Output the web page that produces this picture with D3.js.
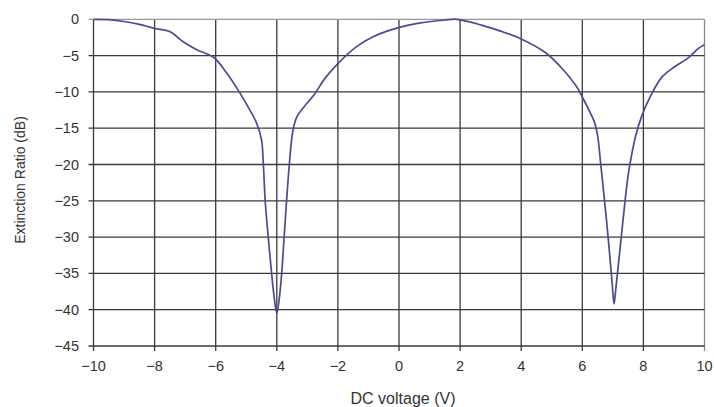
<!DOCTYPE html>
<html><head><meta charset="utf-8">
<script src="https://cdn.jsdelivr.net/npm/d3@7"></script>
<style>body{margin:0;background:#fff;} text{font-family:"Liberation Sans",Arial,sans-serif;fill:#333;}</style>
</head><body><svg id="c" width="714" height="407"></svg>
<script>
const voltage = [-10,-9.5,-9,-8.5,-8,-7.5,-7.06,-6.62,-6.08,-5.64,-5.2,-4.88,-4.66,-4.5,-4.44,-4.38,-4.28,-4.17,-4.08,-4.0,-3.92,-3.84,-3.76,-3.68,-3.59,-3.48,-3.35,-3.1,-2.8,-2.4,-2.0,-1.4,-0.85,-0.1,0.7,1.5,1.9,2.7,3.3,4.0,4.8,5.3,5.8,6.0,6.25,6.4,6.5,6.6,6.7,6.8,6.9,6.98,7.04,7.1,7.2,7.3,7.4,7.5,7.6,7.75,7.94,8.22,8.6,9.0,9.5,9.8,10];
const extinction = [0,-0.05,-0.3,-0.7,-1.25,-1.7,-3.1,-4.2,-5.2,-7.4,-10.2,-12.5,-14.3,-16.6,-20,-25,-30,-35,-38.5,-40.5,-38.5,-35,-30,-25,-20,-15.5,-13.5,-12,-10.5,-8,-6.1,-3.8,-2.4,-1.25,-0.5,-0.1,0,-0.8,-1.6,-2.7,-4.6,-6.6,-9.2,-10.7,-12.8,-14.2,-16,-19.8,-23.8,-28,-32.6,-36.5,-39.2,-37,-33,-29,-25,-21.5,-19,-16,-13.4,-10.7,-8,-6.6,-5.2,-4,-3.5];
const xTicks = [-10,-8,-6,-4,-2,0,2,4,6,8,10];
const yTicks = [0,-5,-10,-15,-20,-25,-30,-35,-40,-45];

const svg = d3.select("#c");
const x = d3.scaleLinear().domain([-10,10]).range([93.5,704.5]);
const y = d3.scaleLinear().domain([0,-45]).range([19.3,346]);
const fmt = d => d < 0 ? "\u2212" + Math.abs(d) : String(d);

const g = svg.append("g");
// grid
g.selectAll(".vg").data(xTicks).join("line")
  .attr("x1", d=>x(d)).attr("x2", d=>x(d)).attr("y1", y(0)).attr("y2", y(-45)+5)
  .attr("stroke", d => d===10 ? "#888" : "#3a3a3a").attr("stroke-width", 1.3);
g.selectAll(".hg").data(yTicks).join("line")
  .attr("y1", d=>y(d)).attr("y2", d=>y(d)).attr("x1", x(-10)-5).attr("x2", x(10))
  .attr("stroke", d => d===0 ? "#999" : "#3a3a3a").attr("stroke-width", 1.3);

// tick labels
g.selectAll(".yl").data(yTicks).join("text")
  .attr("x", 79).attr("y", d=>y(d)).attr("dy","0.35em").attr("text-anchor","end")
  .attr("font-size", 14.5).text(fmt);
g.selectAll(".xl").data(xTicks).join("text")
  .attr("x", d=>x(d)).attr("y", 366).attr("dy","0.35em").attr("text-anchor","middle")
  .attr("font-size", 14.5).text(fmt);

// curve
const line = d3.line().x((d,i)=>x(voltage[i])).y(d=>y(d)).curve(d3.curveCatmullRom.alpha(0.5));
g.append("path").datum(extinction).attr("d", line)
  .attr("fill","none").attr("stroke","#4b4b92").attr("stroke-width",1.7);

// axis titles
svg.append("text").attr("x", 403).attr("y", 404).attr("text-anchor","middle")
  .attr("font-size", 16).text("DC voltage (V)");
svg.append("text").attr("transform","translate(25,180) rotate(-90)").attr("text-anchor","middle")
  .attr("font-size", 14).text("Extinction Ratio (dB)");
</script></body></html>
